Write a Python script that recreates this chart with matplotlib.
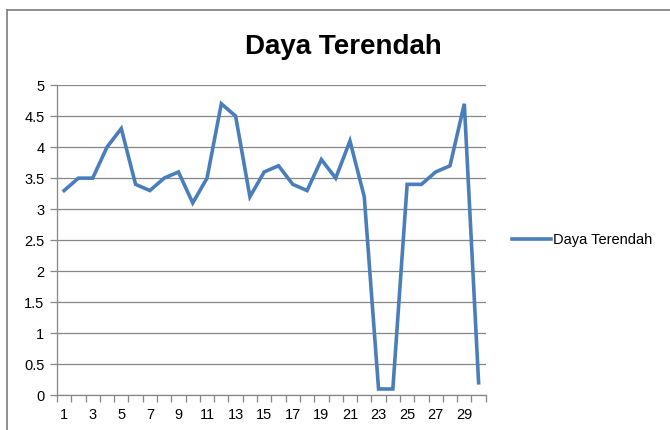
import numpy as np
import matplotlib
matplotlib.use('Agg')
import matplotlib.pyplot as plt
from matplotlib.lines import Line2D

days = list(range(1, 31))
daya = [3.3, 3.5, 3.5, 4.0, 4.3, 3.4, 3.3, 3.5, 3.6, 3.1,
        3.5, 4.7, 4.5, 3.2, 3.6, 3.7, 3.4, 3.3, 3.8, 3.5,
        4.1, 3.2, 0.1, 0.1, 3.4, 3.4, 3.6, 3.7, 4.7, 0.2]
yticks = [0, 0.5, 1, 1.5, 2, 2.5, 3, 3.5, 4, 4.5, 5]
ylabels = ['0', '0.5', '1', '1.5', '2', '2.5', '3', '3.5', '4', '4.5', '5']
title = 'Daya Terendah'
series = 'Daya Terendah'

plt.rcParams['font.family'] = ['Liberation Sans', 'DejaVu Sans']

fig = plt.figure(figsize=(6.7, 4.3), dpi=100)
# chart border, only the left and top edges fall inside the picture
bx0 = 7 / 670
by1 = 1 - 10 / 430
fig.add_artist(Line2D([bx0, bx0], [-0.1, by1], color='#868686', lw=1.3,
                      transform=fig.transFigure))
fig.add_artist(Line2D([bx0, 1.1], [by1, by1], color='#868686', lw=1.3,
                      transform=fig.transFigure))
ax = fig.add_axes((0.085, 0.081, 0.64, 0.721))

grid = '#868686'
ax.plot(days, daya, color='#4A7EBB', lw=2.6, label=series, solid_joinstyle='miter')
ax.set_xlim(0.5, 30.5)
ax.set_ylim(0, 5)
ax.set_yticks(yticks)
ax.set_yticklabels(ylabels)
ax.yaxis.grid(True, color=grid, lw=0.9)
ax.set_axisbelow(True)

ax.set_xticks(np.arange(0.5, 31, 1))
ax.set_xticklabels([])
ax.set_xticks(days[::2], minor=True)
ax.set_xticklabels([str(d) for d in days[::2]], minor=True)
ax.tick_params(axis='x', which='major', length=5, color=grid, width=0.9)
ax.tick_params(axis='x', which='minor', length=0, pad=9, labelsize=10.5)
ax.tick_params(axis='y', length=5, color=grid, width=0.9, labelsize=10.5, pad=4)

for s in ['top', 'right']:
    ax.spines[s].set_visible(False)
for s in ['left', 'bottom']:
    ax.spines[s].set_color(grid)
    ax.spines[s].set_linewidth(0.9)

fig.text(0.512, 0.89, title, ha='center', va='center', fontsize=20, fontweight='bold')

ax.legend(loc='center left', bbox_to_anchor=(1.03, 0.5), frameon=False,
          fontsize=10.5, handlelength=2.7, handletextpad=0.1)

fig.savefig('out.png', dpi=100)
